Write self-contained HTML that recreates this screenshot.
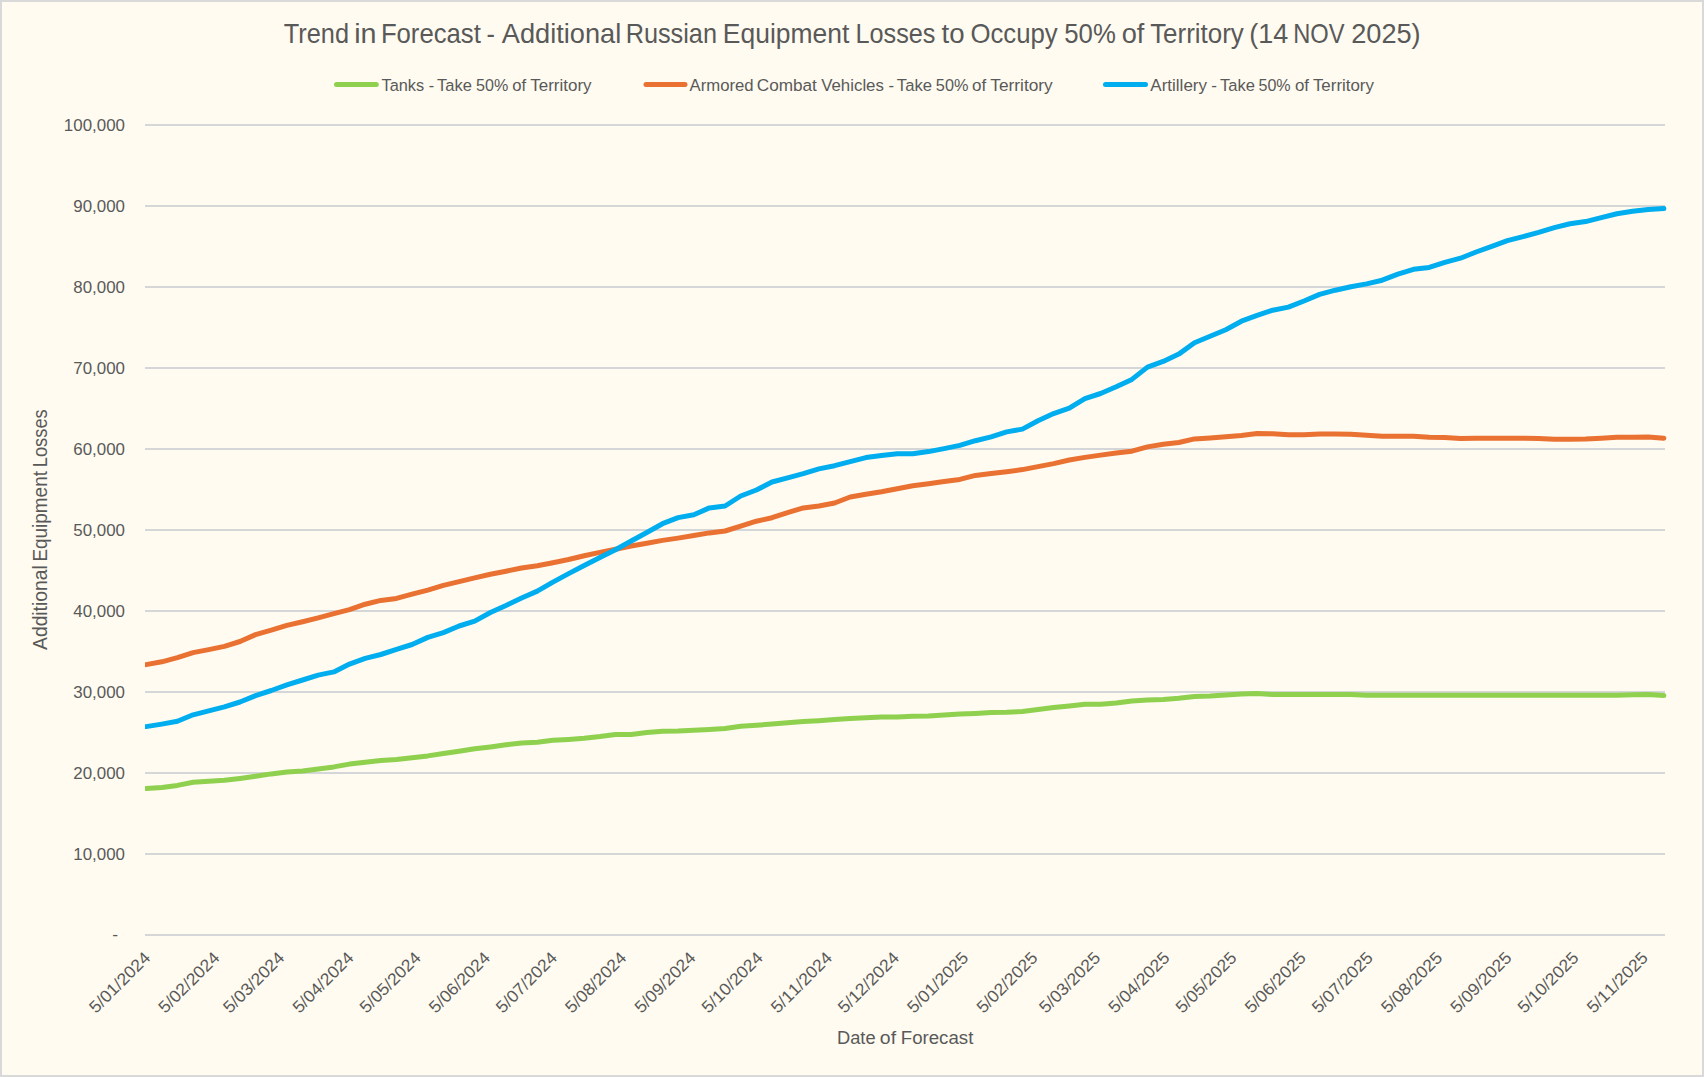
<!DOCTYPE html>
<html lang="en"><head><meta charset="utf-8"><title>Trend in Forecast</title>
<style>
html,body{margin:0;padding:0;background:#fffbf0;}
body{width:1704px;height:1077px;overflow:hidden;}
svg{display:block;}
text{font-family:"Liberation Sans",sans-serif;fill:#595959;white-space:pre;}
</style></head><body>
<svg width="1704" height="1077" viewBox="0 0 1704 1077">
<rect x="0" y="0" width="1704" height="1077" fill="#d9d9d9"/>
<rect x="2" y="2" width="1700" height="1073" fill="#fffbf0"/>

<g stroke="#d5d6d8" stroke-width="2" fill="none">
<line x1="145" y1="125" x2="1665" y2="125"/>
<line x1="145" y1="206" x2="1665" y2="206"/>
<line x1="145" y1="287" x2="1665" y2="287"/>
<line x1="145" y1="368" x2="1665" y2="368"/>
<line x1="145" y1="449" x2="1665" y2="449"/>
<line x1="145" y1="530" x2="1665" y2="530"/>
<line x1="145" y1="611" x2="1665" y2="611"/>
<line x1="145" y1="692" x2="1665" y2="692"/>
<line x1="145" y1="773" x2="1665" y2="773"/>
<line x1="145" y1="854" x2="1665" y2="854"/>
<line x1="145" y1="935" x2="1665" y2="935"/>
</g>
<g font-size="16.9">
<text x="63.85" y="131" textLength="61.09" lengthAdjust="spacingAndGlyphs">100,000</text>
<text x="73.26" y="212" textLength="51.69" lengthAdjust="spacingAndGlyphs">90,000</text>
<text x="73.26" y="293" textLength="51.69" lengthAdjust="spacingAndGlyphs">80,000</text>
<text x="73.26" y="374" textLength="51.69" lengthAdjust="spacingAndGlyphs">70,000</text>
<text x="73.26" y="455" textLength="51.69" lengthAdjust="spacingAndGlyphs">60,000</text>
<text x="73.26" y="536" textLength="51.69" lengthAdjust="spacingAndGlyphs">50,000</text>
<text x="73.26" y="617" textLength="51.69" lengthAdjust="spacingAndGlyphs">40,000</text>
<text x="73.26" y="698" textLength="51.69" lengthAdjust="spacingAndGlyphs">30,000</text>
<text x="73.26" y="779" textLength="51.69" lengthAdjust="spacingAndGlyphs">20,000</text>
<text x="73.26" y="860" textLength="51.69" lengthAdjust="spacingAndGlyphs">10,000</text>
<text x="112.23" y="940" textLength="5.84" lengthAdjust="spacingAndGlyphs">-</text>
</g>
<defs><clipPath id="pc"><rect x="145" y="100" width="1530" height="860"/></clipPath></defs>
<g clip-path="url(#pc)" fill="none" stroke-width="5" stroke-linecap="round" stroke-linejoin="round">
<polyline stroke="#8fd04f" points="146.1,788.5 161.8,787.4 177.4,785.4 193.1,782.2 208.7,781.2 224.4,780.3 240.0,778.4 255.6,776.2 271.3,773.9 286.9,772.0 302.6,770.9 318.2,769.0 333.9,766.9 349.5,764.1 365.2,762.3 380.8,760.6 396.5,759.6 412.1,757.7 427.8,755.9 443.4,753.5 459.1,751.3 474.7,748.8 490.4,746.9 506.0,744.8 521.6,743.1 537.3,742.2 552.9,740.3 568.6,739.4 584.2,738.3 599.9,736.6 615.5,734.5 631.2,734.5 646.8,732.6 662.5,731.3 678.1,731.1 693.8,730.2 709.4,729.4 725.1,728.5 740.7,726.3 756.4,725.2 772.0,724.1 787.6,722.8 803.3,721.6 818.9,720.7 834.6,719.6 850.2,718.6 865.9,717.7 881.5,716.9 897.2,716.9 912.8,716.2 928.5,716.0 944.1,715.1 959.8,714.1 975.4,713.4 991.1,712.4 1006.7,712.3 1022.4,711.4 1038.0,709.4 1053.6,707.6 1069.3,705.9 1084.9,704.3 1100.6,704.2 1116.2,703.1 1131.9,701.0 1147.5,700.0 1163.2,699.4 1178.8,698.3 1194.5,696.4 1210.1,696.0 1225.8,695.1 1241.4,694.1 1257.1,693.4 1272.7,694.5 1288.4,694.5 1304.0,694.5 1319.6,694.5 1335.3,694.5 1350.9,694.5 1366.6,695.3 1382.2,695.3 1397.9,695.3 1413.5,695.3 1429.2,695.3 1444.8,695.3 1460.5,695.3 1476.1,695.3 1491.8,695.3 1507.4,695.3 1523.1,695.3 1538.7,695.3 1554.3,695.3 1570.0,695.3 1585.6,695.3 1601.3,695.3 1616.9,695.3 1632.6,694.8 1648.2,694.6 1663.9,695.5"/>
<polyline stroke="#e97132" points="146.1,664.6 161.8,661.8 177.4,657.7 193.1,652.6 208.7,649.6 224.4,646.4 240.0,641.5 255.6,634.6 271.3,630.2 286.9,625.4 302.6,621.8 318.2,617.9 333.9,613.7 349.5,609.6 365.2,604.2 380.8,600.4 396.5,598.4 412.1,594.1 427.8,590.1 443.4,585.4 459.1,581.6 474.7,577.9 490.4,574.2 506.0,571.2 521.6,568.0 537.3,565.7 552.9,562.7 568.6,559.5 584.2,555.8 599.9,552.4 615.5,549.2 631.2,546.0 646.8,543.2 662.5,540.4 678.1,538.1 693.8,535.5 709.4,532.9 725.1,531.0 740.7,526.1 756.4,521.2 772.0,517.7 787.6,512.6 803.3,507.9 818.9,506.0 834.6,503.0 850.2,497.0 865.9,494.2 881.5,491.8 897.2,488.8 912.8,485.8 928.5,483.7 944.1,481.6 959.8,479.4 975.4,475.4 991.1,473.6 1006.7,471.7 1022.4,469.6 1038.0,466.6 1053.6,463.6 1069.3,460.0 1084.9,457.4 1100.6,455.1 1116.2,453.1 1131.9,451.2 1147.5,446.9 1163.2,444.2 1178.8,442.5 1194.5,438.9 1210.1,437.9 1225.8,436.8 1241.4,435.4 1257.1,433.5 1272.7,433.7 1288.4,434.8 1304.0,434.8 1319.6,433.9 1335.3,433.9 1350.9,434.2 1366.6,435.2 1382.2,436.3 1397.9,436.3 1413.5,436.3 1429.2,437.3 1444.8,437.5 1460.5,438.4 1476.1,438.2 1491.8,438.2 1507.4,438.2 1523.1,438.2 1538.7,438.4 1554.3,439.3 1570.0,439.3 1585.6,439.1 1601.3,438.2 1616.9,437.3 1632.6,437.3 1648.2,437.1 1663.9,438.2"/>
<polyline stroke="#00aeef" points="146.1,726.6 161.8,724.1 177.4,721.3 193.1,714.8 208.7,710.8 224.4,706.9 240.0,702.0 255.6,695.6 271.3,690.5 286.9,684.9 302.6,680.0 318.2,675.1 333.9,671.9 349.5,664.1 365.2,658.4 380.8,654.5 396.5,649.4 412.1,644.5 427.8,637.4 443.4,632.6 459.1,626.0 474.7,621.1 490.4,612.5 506.0,605.5 521.6,598.0 537.3,591.1 552.9,582.1 568.6,573.6 584.2,565.5 599.9,557.6 615.5,549.8 631.2,541.0 646.8,532.5 662.5,523.7 678.1,517.6 693.8,514.8 709.4,507.9 725.1,506.0 740.7,496.0 756.4,490.0 772.0,482.0 787.6,477.9 803.3,473.7 818.9,468.9 834.6,465.7 850.2,461.7 865.9,457.6 881.5,455.5 897.2,453.7 912.8,453.8 928.5,451.6 944.1,448.6 959.8,445.4 975.4,440.7 991.1,436.9 1006.7,431.9 1022.4,429.1 1038.0,420.8 1053.6,413.6 1069.3,408.2 1084.9,398.6 1100.6,393.5 1116.2,386.8 1131.9,379.4 1147.5,367.1 1163.2,361.4 1178.8,354.1 1194.5,342.8 1210.1,336.3 1225.8,329.7 1241.4,321.2 1257.1,315.4 1272.7,310.2 1288.4,307.1 1304.0,301.0 1319.6,294.4 1335.3,290.2 1350.9,286.7 1366.6,283.9 1382.2,280.2 1397.9,274.2 1413.5,269.3 1429.2,267.4 1444.8,262.3 1460.5,258.2 1476.1,252.0 1491.8,246.4 1507.4,240.7 1523.1,236.6 1538.7,232.3 1554.3,227.6 1570.0,223.8 1585.6,221.6 1601.3,217.6 1616.9,213.7 1632.6,211.3 1648.2,209.5 1663.9,208.6"/>
</g>
<g font-size="16.9" text-anchor="end" style="font-kerning:none">
<text transform="translate(151.3,958.8) rotate(-45)" x="0" y="0" textLength="78.19" lengthAdjust="spacingAndGlyphs">5/01/2024</text>
<text transform="translate(220.6,958.8) rotate(-45)" x="0" y="0" textLength="78.19" lengthAdjust="spacingAndGlyphs">5/02/2024</text>
<text transform="translate(285.4,958.8) rotate(-45)" x="0" y="0" textLength="78.19" lengthAdjust="spacingAndGlyphs">5/03/2024</text>
<text transform="translate(354.7,958.8) rotate(-45)" x="0" y="0" textLength="78.19" lengthAdjust="spacingAndGlyphs">5/04/2024</text>
<text transform="translate(421.8,958.8) rotate(-45)" x="0" y="0" textLength="78.19" lengthAdjust="spacingAndGlyphs">5/05/2024</text>
<text transform="translate(491.1,958.8) rotate(-45)" x="0" y="0" textLength="78.19" lengthAdjust="spacingAndGlyphs">5/06/2024</text>
<text transform="translate(558.1,958.8) rotate(-45)" x="0" y="0" textLength="78.19" lengthAdjust="spacingAndGlyphs">5/07/2024</text>
<text transform="translate(627.4,958.8) rotate(-45)" x="0" y="0" textLength="78.19" lengthAdjust="spacingAndGlyphs">5/08/2024</text>
<text transform="translate(696.7,958.8) rotate(-45)" x="0" y="0" textLength="78.19" lengthAdjust="spacingAndGlyphs">5/09/2024</text>
<text transform="translate(763.8,958.8) rotate(-45)" x="0" y="0" textLength="78.19" lengthAdjust="spacingAndGlyphs">5/10/2024</text>
<text transform="translate(833.1,958.8) rotate(-45)" x="0" y="0" textLength="78.19" lengthAdjust="spacingAndGlyphs">5/11/2024</text>
<text transform="translate(900.1,958.8) rotate(-45)" x="0" y="0" textLength="78.19" lengthAdjust="spacingAndGlyphs">5/12/2024</text>
<text transform="translate(969.4,958.8) rotate(-45)" x="0" y="0" textLength="78.19" lengthAdjust="spacingAndGlyphs">5/01/2025</text>
<text transform="translate(1038.7,958.8) rotate(-45)" x="0" y="0" textLength="78.19" lengthAdjust="spacingAndGlyphs">5/02/2025</text>
<text transform="translate(1101.3,958.8) rotate(-45)" x="0" y="0" textLength="78.19" lengthAdjust="spacingAndGlyphs">5/03/2025</text>
<text transform="translate(1170.6,958.8) rotate(-45)" x="0" y="0" textLength="78.19" lengthAdjust="spacingAndGlyphs">5/04/2025</text>
<text transform="translate(1237.7,958.8) rotate(-45)" x="0" y="0" textLength="78.19" lengthAdjust="spacingAndGlyphs">5/05/2025</text>
<text transform="translate(1307.0,958.8) rotate(-45)" x="0" y="0" textLength="78.19" lengthAdjust="spacingAndGlyphs">5/06/2025</text>
<text transform="translate(1374.0,958.8) rotate(-45)" x="0" y="0" textLength="78.19" lengthAdjust="spacingAndGlyphs">5/07/2025</text>
<text transform="translate(1443.3,958.8) rotate(-45)" x="0" y="0" textLength="78.19" lengthAdjust="spacingAndGlyphs">5/08/2025</text>
<text transform="translate(1512.6,958.8) rotate(-45)" x="0" y="0" textLength="78.19" lengthAdjust="spacingAndGlyphs">5/09/2025</text>
<text transform="translate(1579.7,958.8) rotate(-45)" x="0" y="0" textLength="78.19" lengthAdjust="spacingAndGlyphs">5/10/2025</text>
<text transform="translate(1649.0,958.8) rotate(-45)" x="0" y="0" textLength="78.19" lengthAdjust="spacingAndGlyphs">5/11/2025</text>
</g>
<text font-size="26.9"><tspan x="283.84" y="43.0" textLength="65.18" lengthAdjust="spacingAndGlyphs">Trend</tspan> <tspan x="354.21" y="43.0" textLength="22.34" lengthAdjust="spacingAndGlyphs">in</tspan> <tspan x="380.89" y="43.0" textLength="99.99" lengthAdjust="spacingAndGlyphs">Forecast</tspan> <tspan x="486.59" y="43.0" textLength="8.43" lengthAdjust="spacingAndGlyphs">-</tspan> <tspan x="501.75" y="43.0" textLength="119.45" lengthAdjust="spacingAndGlyphs">Additional</tspan> <tspan x="625.63" y="43.0" textLength="91.39" lengthAdjust="spacingAndGlyphs">Russian</tspan> <tspan x="722.83" y="43.0" textLength="126.45" lengthAdjust="spacingAndGlyphs">Equipment</tspan> <tspan x="855.43" y="43.0" textLength="79.99" lengthAdjust="spacingAndGlyphs">Losses</tspan> <tspan x="941.59" y="43.0" textLength="23.05" lengthAdjust="spacingAndGlyphs">to</tspan> <tspan x="970.39" y="43.0" textLength="87.37" lengthAdjust="spacingAndGlyphs">Occupy</tspan> <tspan x="1064.27" y="43.0" textLength="51.54" lengthAdjust="spacingAndGlyphs">50%</tspan> <tspan x="1121.76" y="43.0" textLength="22.69" lengthAdjust="spacingAndGlyphs">of</tspan> <tspan x="1150.13" y="43.0" textLength="93.73" lengthAdjust="spacingAndGlyphs">Territory</tspan> <tspan x="1249.33" y="43.0" textLength="38.96" lengthAdjust="spacingAndGlyphs">(14</tspan> <tspan x="1293.16" y="43.0" textLength="51.34" lengthAdjust="spacingAndGlyphs">NOV</tspan> <tspan x="1351.24" y="43.0" textLength="69.43" lengthAdjust="spacingAndGlyphs">2025)</tspan></text>
<g stroke-width="5" stroke-linecap="round">
<line x1="336.5" y1="84.5" x2="376.3" y2="84.5" stroke="#8fd04f"/>
<line x1="646" y1="84.5" x2="685" y2="84.5" stroke="#e97132"/>
<line x1="1105.5" y1="84.5" x2="1145.5" y2="84.5" stroke="#00aeef"/>
</g>
<text font-size="16.7"><tspan x="381.54" y="90.6" textLength="42.65" lengthAdjust="spacingAndGlyphs">Tanks</tspan> <tspan x="428.68" y="90.6" textLength="5.44" lengthAdjust="spacingAndGlyphs">-</tspan> <tspan x="436.94" y="90.6" textLength="34.90" lengthAdjust="spacingAndGlyphs">Take</tspan> <tspan x="476.06" y="90.6" textLength="32.21" lengthAdjust="spacingAndGlyphs">50%</tspan> <tspan x="512.30" y="90.6" textLength="13.86" lengthAdjust="spacingAndGlyphs">of</tspan> <tspan x="530.23" y="90.6" textLength="61.41" lengthAdjust="spacingAndGlyphs">Territory</tspan></text>
<text font-size="16.7"><tspan x="689.57" y="90.6" textLength="64.11" lengthAdjust="spacingAndGlyphs">Armored</tspan> <tspan x="756.74" y="90.6" textLength="60.17" lengthAdjust="spacingAndGlyphs">Combat</tspan> <tspan x="821.23" y="90.6" textLength="62.67" lengthAdjust="spacingAndGlyphs">Vehicles</tspan> <tspan x="888.56" y="90.6" textLength="5.57" lengthAdjust="spacingAndGlyphs">-</tspan> <tspan x="896.83" y="90.6" textLength="35.10" lengthAdjust="spacingAndGlyphs">Take</tspan> <tspan x="935.85" y="90.6" textLength="32.53" lengthAdjust="spacingAndGlyphs">50%</tspan> <tspan x="972.09" y="90.6" textLength="14.18" lengthAdjust="spacingAndGlyphs">of</tspan> <tspan x="990.32" y="90.6" textLength="62.42" lengthAdjust="spacingAndGlyphs">Territory</tspan></text>
<text font-size="16.7"><tspan x="1150.37" y="90.6" textLength="56.66" lengthAdjust="spacingAndGlyphs">Artillery</tspan> <tspan x="1211.15" y="90.6" textLength="5.71" lengthAdjust="spacingAndGlyphs">-</tspan> <tspan x="1220.04" y="90.6" textLength="34.90" lengthAdjust="spacingAndGlyphs">Take</tspan> <tspan x="1258.46" y="90.6" textLength="32.21" lengthAdjust="spacingAndGlyphs">50%</tspan> <tspan x="1294.99" y="90.6" textLength="14.07" lengthAdjust="spacingAndGlyphs">of</tspan> <tspan x="1312.93" y="90.6" textLength="61.01" lengthAdjust="spacingAndGlyphs">Territory</tspan></text>
<text font-size="19.1"><tspan x="837.00" y="1043.5" textLength="38.61" lengthAdjust="spacingAndGlyphs">Date</tspan> <tspan x="879.89" y="1043.5" textLength="16.18" lengthAdjust="spacingAndGlyphs">of</tspan> <tspan x="900.77" y="1043.5" textLength="72.56" lengthAdjust="spacingAndGlyphs">Forecast</tspan></text>
<text font-size="19.3" transform="translate(46.8,649.9) rotate(-90)"><tspan x="-0.04" y="0" textLength="84.61" lengthAdjust="spacingAndGlyphs">Additional</tspan> <tspan x="88.35" y="0" textLength="90.48" lengthAdjust="spacingAndGlyphs">Equipment</tspan> <tspan x="182.60" y="0" textLength="58.07" lengthAdjust="spacingAndGlyphs">Losses</tspan></text>
</svg></body></html>
